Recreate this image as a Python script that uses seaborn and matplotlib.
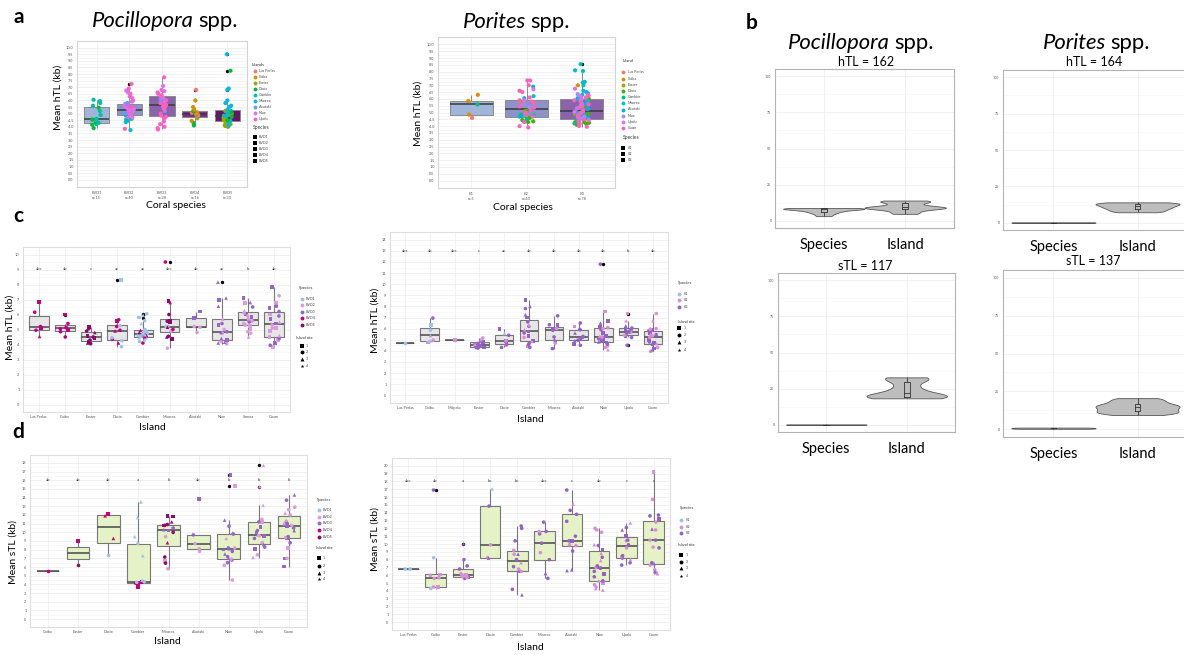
import numpy as np
import pandas as pd
import matplotlib
matplotlib.use("Agg")
import matplotlib.pyplot as plt
from matplotlib.ticker import FixedLocator
import seaborn as sns

np.random.seed(11)
sns.set_theme(style="white")
plt.rcParams["font.family"] = ["Lato", "DejaVu Sans"]

W, H = 1184, 655

# ---------------- panel a: hTL by coral species ----------------
POC_SPECIES = ["BVD1", "BVD2", "BVD3", "BVD4", "BVD5"]
POC_N = [15, 40, 28, 16, 33]
POC_FILL = ["#9fb5d9", "#8c93c9", "#8b63ab", "#7e2d8e", "#6b0f72"]
A_POC_ISLANDS = ["Las Perlas", "Coiba", "Easter", "Ducie", "Gambier",
                 "Moorea", "Aitutaki", "Niue", "Upolu"]
A_POC_ISLAND_COLORS = ["#F8766D", "#D39200", "#93AA00", "#00BA38", "#00C19F",
                       "#00B9E3", "#619CFF", "#DB72FB", "#FF61C3"]
a_poc_values = [
    [3.9, 4.15, 4.2, 4.3, 4.35, 4.45, 4.55, 4.6, 4.9, 5.2, 5.45, 5.6, 5.8, 5.95, 6.05],
    [3.75, 3.85, 4.35, 4.45, 4.55, 4.6, 4.7, 4.75, 4.8, 4.85,
     4.9, 4.95, 5.0, 5.05, 5.1, 5.15, 5.2, 5.2, 5.25, 5.25,
     5.3, 5.35, 5.4, 5.45, 5.5, 5.55, 5.6, 5.65, 5.7, 5.75,
     5.8, 5.9, 6.0, 6.2, 6.3, 6.5, 6.6, 6.75, 6.9, 7.25],
    [3.8, 3.9, 4.0, 4.2, 4.4, 4.6, 4.75, 4.85, 5.0, 5.2, 5.3, 5.45, 5.55, 5.6,
     5.65, 5.8, 5.9, 6.0, 6.1, 6.2, 6.3, 6.4, 6.5, 6.6, 6.7, 6.8, 7.1, 7.75],
    [4.1, 4.3, 4.45, 4.65, 4.8, 4.85, 4.9, 4.95, 4.95, 5.05, 5.1, 5.2, 5.3, 5.5, 6.0, 6.8],
    [4.0, 4.05, 4.1, 4.2, 4.3, 4.4, 4.5, 4.6, 4.7, 4.8, 4.9, 5.0, 5.1, 5.2,
     4.1, 4.35, 4.45, 5.3, 5.6, 4.8, 5.8, 5.0, 5.2, 5.5, 6.0, 6.8, 6.9, 9.5,
     4.5, 4.75, 5.1, 8.25, 4.85],
]
a_poc_island_codes = [
    "334434344434444",
    "5855447787" "5876787867" "8787878787" "6787887788",
    "888888888" "6" "888888" "7" "8" "6" "7" "8888" "7" "8" "7" "8",
    "3311410410131110",
    "22222222222222" "55555555555555" "3333" "4",
]

POR_SPECIES = ["K1", "K2", "K3"]
POR_N = [5, 40, 78]
POR_FILL = ["#9fb5d9", "#8c93c9", "#8b63ab"]
A_POR_ISLANDS = ["Las Perlas", "Coiba", "Easter", "Ducie", "Gambier", "Moorea",
                 "Aitutaki", "Niue", "Upolu", "Guam"]
A_POR_ISLAND_COLORS = ["#F8766D", "#D89000", "#A3A500", "#39B600", "#00BF7D",
                       "#00BFC4", "#00B0F6", "#9590FF", "#E76BF3", "#FF62BC"]
a_por_values = [
    [4.6, 4.85, 5.6, 5.85, 6.3],
    [5.75, 5.1, 4.8, 4.3, 4.35, 4.4, 4.45, 4.6, 5.15, 4.5, 4.75, 4.85, 6.9, 6.2,
     4.8, 6.05, 4.7, 7.35, 7.35, 7.0, 6.6, 6.5, 6.1, 5.9, 5.8, 5.7, 5.55, 5.45,
     5.35, 5.2, 5.0, 4.9, 4.7, 4.3, 4.0, 3.9, 5.6, 5.4, 6.7, 5.9],
    [7.0,
     4.9, 4.55, 4.3,
     6.0, 5.45, 4.9, 4.6, 4.45, 4.35, 4.25, 4.2, 4.15, 4.1, 4.05, 4.3,
     5.95, 5.6, 5.25, 4.8, 4.4, 4.2,
     8.55, 8.1, 8.05, 7.25, 7.2, 7.0, 6.6, 6.4, 6.3, 5.85, 5.4, 5.0, 4.7,
     6.5, 6.05, 5.65, 5.3, 5.15, 5.0, 4.85, 4.75, 4.6, 4.5,
     6.35, 6.0, 5.7, 5.3, 4.95, 4.7, 4.55,
     6.75, 6.2, 5.9, 5.5, 5.05, 4.65, 4.45,
     6.3, 6.25, 6.1, 5.8, 5.6, 5.35, 5.2, 5.1, 4.95, 4.8, 4.65, 4.5, 4.35,
     4.25, 4.15, 4.0, 3.95, 5.5, 5.9],
]
a_por_island_codes = [
    "01411",
    "111" "333333" "444" "555" "66" "9999999999999999999" "77" "88",
    "1" "222" "333333333333" "444444" "5555555555555" "6666666666"
    "7777777" "8888888" "9999999999999999999",
]

# ---------------- panel b: variance components ----------------
B_TERMS = ["Species", "Island"]
b_poc_htl_species = [3.2, 4.5, 5.5, 6.2, 6.8, 7.3, 7.8, 8.1, 8.3, 8.5, 8.6, 8.7, 8.8]
b_poc_htl_island = [4.8, 5.3, 6.5, 7.6, 8.3, 8.7, 8.9, 9.0, 9.1, 9.3, 9.6, 10.3,
                    11.2, 12.6, 13.2, 13.5, 13.6, 14.0]
b_por_htl_species = [0.0, 0.05, 0.1, 0.15, 0.2]
b_por_htl_island = [7.2, 7.8, 8.6, 9.4, 10.0, 10.6, 11.2, 11.8, 12.3, 12.8, 13.3, 13.7, 14.0]
b_poc_stl_species = [0.0, 0.05, 0.1, 0.15, 0.2]
b_poc_stl_island = [18.3, 18.6, 18.9, 19.1, 19.4, 19.8, 20.3, 21.0, 22.0, 23.2, 25.0,
                    27.0, 29.5, 31.5, 32.3, 32.6, 32.8]
b_por_stl_species = [0.4, 0.6, 0.8, 1.0, 1.2]
b_por_stl_island = [9.5, 10.2, 10.8, 11.3, 11.8, 12.5, 13.3, 14.0, 14.6, 15.2, 15.7,
                    16.2, 17.0, 18.0, 19.0, 20.0, 20.6]
B_N = {"poc_htl": 162, "por_htl": 164, "poc_stl": 117, "por_stl": 137}

# ---------------- panels c, d: telomere length by island ----------------
BVD_COLORS = ["#9dc3e6", "#dc9bdb", "#9466c9", "#c4007f", "#8a0a6d"]
K_COLORS = ["#9dc3e6", "#d98fd6", "#9262c6"]
SITES = ["1", "2", "3", "4"]
SITE_MARKERS = ["s", "o", "^", "*"]

c_poc_islands = ["Las Perlas", "Coiba", "Easter", "Ducie", "Gambier", "Moorea",
                 "Aitutaki", "Niue", "Samoa", "Guam"]
c_poc_values = [
    [4.55, 4.95, 5.1, 5.2, 6.15, 6.85],
    [4.5, 4.85, 4.95, 5.05, 5.1, 5.25, 5.4, 6.0],
    [4.05, 4.1, 4.15, 4.3, 4.45, 4.5, 4.55, 4.8, 4.9, 5.05, 5.15],
    [3.85, 4.1, 4.25, 4.35, 4.45, 4.9, 4.95, 5.2, 5.25, 5.55, 5.65, 8.3],
    [4.1, 4.2, 4.3, 4.4, 4.45, 4.5, 4.55, 4.6, 4.6, 4.65, 4.7, 4.7, 4.75, 4.8,
     4.85, 4.9, 4.95, 5.0, 5.4, 5.6, 5.8, 5.95, 6.05],
    [3.75, 4.35, 4.5, 4.55, 4.9, 5.0, 5.15, 5.2, 5.2, 5.5, 5.55, 5.6, 6.0, 6.8, 6.9, 9.5],
    [4.8, 5.15, 5.2, 5.75, 6.2],
    [4.05, 4.1, 4.15, 4.2, 4.3, 4.4, 4.75, 4.8, 4.85, 5.0, 5.3, 5.4, 5.7, 6.55,
     6.95, 7.1, 8.15],
    [4.5, 4.75, 4.85, 5.0, 5.25, 5.3, 5.4, 5.5, 5.55, 5.6, 5.7, 5.85, 5.9, 6.0,
     6.1, 6.25, 6.5, 6.75, 6.8, 7.1],
    [3.85, 3.95, 4.1, 4.3, 4.4, 4.5, 4.6, 4.9, 5.1, 5.1, 5.3, 5.4, 5.5, 5.7, 5.9,
     6.0, 6.2, 6.45, 6.55, 6.75, 7.25, 7.85],
]
c_poc_species = ["444444", "44444444", "55555555555", "141414441441",
                 "41111414114115114111111", "2555245215555454", "22233",
                 "23323323323323333", "22222223222323223233", "2332322222232332333223"]
c_poc_sites = ["321221", "22122321", "23121213221", "232223222121",
               "21323213231223213232132", "2132223221212312", "22211",
               "23321323221233133", "32221222132121232131", "1211213121213121212121"]
c_poc_letters = ["abc", "ab", "c", "ac", "ac", "abc", "ab", "ac", "b", "ab"]

c_por_islands = ["Las Perlas", "Coiba", "Malpelo", "Easter", "Ducie", "Gambier",
                 "Moorea", "Aitutaki", "Niue", "Upolu", "Guam"]
c_por_values = [
    [4.7],
    [4.75, 4.85, 4.95, 5.4, 5.85, 6.3, 6.95],
    [5.0, 5.0],
    [4.25, 4.3, 4.3, 4.35, 4.4, 4.45, 4.55, 4.6, 4.65, 4.8, 4.85, 5.0, 5.15],
    [4.3, 4.5, 4.6, 4.9, 4.9, 5.4, 5.6, 5.95],
    [4.3, 4.4, 4.55, 4.7, 4.85, 4.9, 5.2, 5.35, 5.6, 5.75, 5.9, 6.2, 6.3, 6.6,
     7.0, 7.25, 7.8, 8.0, 8.55],
    [4.2, 4.7, 4.85, 5.1, 5.25, 5.85, 5.95, 6.0, 6.3, 6.35, 7.15],
    [4.5, 4.6, 4.9, 4.95, 5.1, 5.2, 5.3, 5.6, 5.9, 5.95, 6.2, 6.5],
    [4.1, 4.3, 4.45, 4.6, 4.75, 4.8, 4.9, 5.0, 5.1, 5.2, 5.25, 5.3, 5.35, 5.6,
     5.9, 6.0, 6.1, 6.2, 6.5, 6.7, 7.55, 11.8],
    [4.5, 5.2, 5.3, 5.4, 5.6, 5.65, 5.7, 5.75, 5.85, 5.95, 6.05, 6.25, 6.7, 7.35],
    [3.95, 4.1, 4.2, 4.3, 4.55, 4.65, 4.75, 4.8, 5.0, 5.2, 5.35, 5.45, 5.5, 5.6,
     5.8, 5.9, 5.95, 6.0, 6.7, 7.35],
]
c_por_species = ["1", "2122113", "22", "3333333233322", "32332313",
                 "3233232333232333333", "32333332333", "333333333323",
                 "2223333333223332233323", "33323323333322", "23323233322323332222"]
c_por_sites = ["2", "1223212", "12", "2132212321232", "22212231",
               "2122312121323213231", "22132212122", "213221232312",
               "3222132122231122213112", "22122132212331", "23122312122231212232"]
c_por_letters = ["abc", "ab", "abc", "c", "ac", "ab", "ab", "ab", "ab", "b", "ab"]

d_poc_islands = ["Coiba", "Easter", "Ducie", "Gambier", "Moorea", "Aitutaki",
                 "Niue", "Upolu", "Guam"]
d_poc_values = [
    [5.5],
    [6.25, 9.0],
    [7.4, 9.3, 11.9, 12.1],
    [3.7, 4.0, 4.15, 4.2, 4.25, 4.3, 4.3, 4.5, 7.3, 8.7, 9.5, 11.7, 13.5],
    [5.8, 6.45, 6.7, 7.15, 8.8, 9.5, 10.0, 10.2, 10.3, 10.5, 10.8, 10.8, 10.9,
     11.2, 11.8, 11.9],
    [7.8, 8.1, 8.7, 9.7, 13.85],
    [4.5, 6.2, 6.5, 6.8, 6.9, 7.0, 7.2, 7.5, 7.8, 8.05, 8.1, 8.2, 8.2, 9.3, 9.8,
     9.9, 10.7, 11.4, 15.3, 16.6],
    [7.1, 7.4, 8.1, 8.3, 8.6, 8.8, 9.3, 9.6, 9.6, 9.7, 10.0, 10.2, 10.6, 11.2,
     11.2, 11.5, 13.1, 15.25, 17.7],
    [6.05, 7.0, 7.0, 8.2, 8.8, 9.3, 9.4, 9.5, 10.2, 10.5, 10.7, 10.8, 11.0, 11.0,
     11.2, 11.4, 12.0, 12.2, 12.6, 12.9, 13.7, 14.3],
]
d_poc_species = ["4", "54", "1444", "4444114111111", "2525425333545455", "22233",
                 "22332333333232333323", "2233323322333322222",
                 "3322332333323232222233"]
d_poc_sites = ["2", "21", "2331", "1121221332333", "2212322132212311", "22221",
               "22222323233223232311", "3212322123121212333",
               "1121212232122323232223"]
d_poc_letters = ["ab", "ab", "ab", "a", "b", "ab", "b", "b", "b"]

d_por_islands = ["Las Perlas", "Coiba", "Easter", "Ducie", "Gambier", "Moorea",
                 "Aitutaki", "Niue", "Upolu", "Guam"]
d_por_values = [
    [6.8, 6.8],
    [4.3, 4.5, 4.5, 5.6, 5.7, 6.0, 6.1, 8.25, 16.9],
    [5.6, 5.7, 5.8, 5.8, 5.85, 5.9, 6.0, 6.1, 6.2, 6.8, 7.2, 8.0, 10.0],
    [8.2, 8.25, 9.9, 14.85, 17.05],
    [3.5, 4.2, 6.5, 6.5, 6.8, 7.1, 7.6, 8.0, 8.7, 8.7, 9.2, 10.4, 12.0, 12.3],
    [5.6, 6.3, 8.0, 8.9, 10.1, 11.3, 11.6, 11.6, 12.8],
    [6.6, 6.7, 9.1, 9.8, 9.9, 10.4, 10.4, 11.0, 12.9, 13.8, 14.3, 15.1, 16.9],
    [4.1, 4.3, 4.5, 4.8, 5.0, 5.3, 5.3, 5.8, 6.2, 6.5, 6.9, 6.9, 7.0, 7.2, 7.9,
     8.3, 8.8, 9.3, 9.8, 9.9, 11.5, 11.8, 12.0],
    [7.3, 7.6, 8.0, 8.2, 8.4, 8.5, 9.5, 9.9, 10.4, 10.5, 11.0, 11.8, 12.1, 12.7],
    [6.2, 6.3, 6.5, 6.7, 7.3, 7.5, 7.6, 9.5, 9.6, 10.5, 10.5, 11.8, 11.9, 12.8,
     13.2, 13.6, 13.7, 15.7, 19.2],
]
d_por_species = ["11", "122222213", "3223222223333", "32231", "33322323322333",
                 "333233233", "3332233333323", "22222323333223232332222",
                 "33232323233332", "2232233323223233322"]
d_por_sites = ["22", "221222122", "2221222122224", "32223", "32222232322222",
               "232222222", "3322221222232", "33221232122122323123222",
               "22322222221323", "3232232222223212221"]
d_por_letters = ["abc", "ab", "a", "bc", "bc", "abc", "c", "ab", "c", "c"]


# ---------------- helpers ----------------
fig = plt.figure(figsize=(W / 100, H / 100), dpi=100)


def axes_px(left, top, right, bottom):
    return fig.add_axes([left / W, 1 - bottom / H, (right - left) / W, (bottom - top) / H])


def long_table(groups, values, codes_a, codes_b=None):
    rows = []
    for i, g in enumerate(groups):
        vals = values[i]
        ca = codes_a[i]
        cb = codes_b[i] if codes_b is not None else "0" * len(vals)
        assert len(vals) == len(ca) == len(cb), (g, len(vals), len(ca), len(cb))
        for v, a, b in zip(vals, ca, cb):
            rows.append({"grp": g, "val": v, "ca": int(a), "cb": b})
    return pd.DataFrame(rows)


def style_axes(ax, xlim, ylim, ymajor, yminor, ylabels, xlabels, border,
               fs=3.0, grid="#ebebeb"):
    ax.set_xlim(*xlim)
    ax.set_ylim(*ylim)
    ax.set_xlabel("")
    ax.set_ylabel("")
    ax.set_yticks(ymajor)
    ax.set_yticklabels(ylabels, fontsize=fs, color="#555555")
    ax.yaxis.set_minor_locator(FixedLocator(yminor))
    ax.set_xticks(range(len(xlabels)))
    ax.set_xticklabels(xlabels, fontsize=fs, color="#555555")
    ax.set_axisbelow(True)
    ax.grid(True, which="major", color=grid, lw=0.5)
    ax.grid(True, which="minor", axis="y", color="#f4f4f4", lw=0.4)
    ax.tick_params(which="major", length=1.5, width=0.4, color="#888888", pad=1)
    ax.tick_params(which="minor", length=0)
    for s in ax.spines.values():
        s.set_color(border)
        s.set_linewidth(0.8)


FLIER = dict(marker="o", markersize=1.4, markerfacecolor="black",
             markeredgecolor="black")


def species_panel(box, species, n, fills, values, codes, islands, icolors, ylim):
    ax = axes_px(*box)
    df = long_table(species, values, codes)
    df["isl"] = [islands[c] for c in df["ca"]]
    sns.boxplot(data=df, x="grp", y="val", order=species, hue="grp",
                hue_order=species, palette=fills, saturation=1, width=0.78,
                linewidth=0.7, linecolor="#8a8a8a", showcaps=False,
                flierprops=FLIER, medianprops=dict(color="#3a3a3a", linewidth=1.1),
                legend=False, ax=ax)
    sns.stripplot(data=df, x="grp", y="val", order=species, hue="isl",
                  hue_order=islands, palette=icolors, jitter=0.14, size=3.0,
                  linewidth=0, legend=False, ax=ax)
    major = [i * 0.5 for i in range(21)]
    minor = [0.25 + i * 0.5 for i in range(20)]
    style_axes(ax, (-0.6, len(species) - 0.4), ylim, major, minor,
               [f"{m:.1f}" for m in major],
               [f"{s}\nn={k}" for s, k in zip(species, n)], "#d4d4d4", fs=2.8)
    ax.tick_params(axis="x", pad=1.5)
    return ax


def violin_panel(box, sp_vals, isl_vals):
    ax = axes_px(*box)
    df = pd.DataFrame({"term": ["Species"] * len(sp_vals) + ["Island"] * len(isl_vals),
                       "val": list(sp_vals) + list(isl_vals)})
    sns.violinplot(data=df, x="term", y="val", order=B_TERMS, cut=0, inner=None,
                   density_norm="width", width=1.0, color="#bdbdbd", saturation=1,
                   linecolor="#555555", linewidth=0.6, bw_adjust=0.7, ax=ax)
    sns.boxplot(data=df, x="term", y="val", order=B_TERMS, width=0.07, fill=False,
                color="#333333", linewidth=0.6, showcaps=False,
                flierprops=dict(marker="o", markersize=1.2, markerfacecolor="#111111",
                                markeredgecolor="#111111"), ax=ax)
    style_axes(ax, (-0.6, 1.6), (-5, 105), [0, 25, 50, 75, 100],
               [12.5, 37.5, 62.5, 87.5], ["0", "25", "50", "75", "100"],
               B_TERMS, "#b3b3b3", fs=2.6)
    ax.tick_params(axis="x", labelsize=10.5, labelcolor="black", pad=6, length=1.5)
    return ax


def island_panel(box, islands, values, sp_codes, site_codes, sp_names, sp_colors,
                 fill, ylim, ymax, letters, letter_y):
    ax = axes_px(*box)
    df = long_table(islands, values, sp_codes, site_codes)
    df["sp"] = [sp_names[c - 1] for c in df["ca"]]
    sns.boxplot(data=df, x="grp", y="val", order=islands, color=fill, saturation=1,
                width=0.75, linewidth=0.8, linecolor="#777777", showcaps=False,
                flierprops=FLIER, medianprops=dict(color="#555555", linewidth=1.2),
                ax=ax)
    for site, marker in zip(SITES, SITE_MARKERS):
        sub = df[df["cb"] == site]
        if len(sub) == 0:
            continue
        sns.stripplot(data=sub, x="grp", y="val", order=islands, hue="sp",
                      hue_order=sp_names, palette=sp_colors, marker=marker,
                      size=2.6 if marker != "*" else 3.2, jitter=0.2, linewidth=0,
                      legend=False, ax=ax)
    for i, lab in enumerate(letters):
        ax.text(i, letter_y, lab, ha="center", va="center", fontsize=3.2, color="#333333")
    major = list(range(ymax + 1))
    minor = [m + 0.5 for m in range(ymax)]
    style_axes(ax, (-0.6, len(islands) - 0.4), ylim, major, minor,
               [str(m) for m in major], islands, "#dedede", fs=2.8)
    return ax


# ---------------- panel a ----------------
species_panel((77, 41, 247, 187), POC_SPECIES, POC_N, POC_FILL, a_poc_values,
              a_poc_island_codes, A_POC_ISLANDS, A_POC_ISLAND_COLORS, (-0.56, 10.5))
species_panel((438, 37, 615, 188), POR_SPECIES, POR_N, POR_FILL, a_por_values,
              a_por_island_codes, A_POR_ISLANDS, A_POR_ISLAND_COLORS, (-0.55, 10.55))

# ---------------- panel b ----------------
violin_panel((775, 69, 954, 228), b_poc_htl_species, b_poc_htl_island)
violin_panel((1003, 70, 1188, 230), b_por_htl_species, b_por_htl_island)
violin_panel((778, 273, 955, 432), b_poc_stl_species, b_poc_stl_island)
violin_panel((1003, 270, 1188, 437), b_por_stl_species, b_por_stl_island)

# ---------------- panels c and d ----------------
island_panel((23, 247, 290, 412), c_poc_islands, c_poc_values, c_poc_species,
             c_poc_sites, POC_SPECIES, BVD_COLORS, "#e6e6e6", (-0.5, 10.5), 10,
             c_poc_letters, 9)
island_panel((390, 232, 668, 403), c_por_islands, c_por_values, c_por_species,
             c_por_sites, POR_SPECIES, K_COLORS, "#e6e6e6", (-0.7, 14.7), 14,
             c_por_letters, 13)
island_panel((30, 455, 307, 627), d_poc_islands, d_poc_values, d_poc_species,
             d_poc_sites, POC_SPECIES, BVD_COLORS, "#e4f2c6", (-0.9, 18.9), 18,
             d_poc_letters, 16)
island_panel((392, 458, 670, 630), d_por_islands, d_por_values, d_por_species,
             d_por_sites, POR_SPECIES, K_COLORS, "#e4f2c6", (-1.0, 21.0), 20,
             d_por_letters, 18)

# ---------------- text layer (pixel coordinates) ----------------
ov = fig.add_axes([0, 0, 1, 1], zorder=10)
ov.set_xlim(0, W)
ov.set_ylim(H, 0)
ov.axis("off")
ov.patch.set_alpha(0)


def txt(x, y, s, size, **kw):
    kw.setdefault("ha", "center")
    kw.setdefault("va", "center")
    kw.setdefault("color", "black")
    ov.text(x, y, s, fontsize=size, **kw)


def genus_title(x_split, y, genus, size):
    txt(x_split - 2, y, genus, size, ha="right", style="italic")
    txt(x_split + 2, y, "spp.", size, ha="left")


# panel letters
for lab, (x, y) in zip("abcd", [(19, 17), (752, 23), (18, 216), (18, 432)]):
    txt(x, y, lab, 15, fontweight="bold")

# titles
genus_title(196, 21, "Pocillopora", 15.8)
genus_title(528, 22, "Porites", 15.8)
genus_title(892, 43, "Pocillopora", 15.8)
genus_title(1108, 43, "Porites", 15.8)
txt(866, 62, f"hTL = {B_N['poc_htl']}", 9)
txt(1094, 62, f"hTL = {B_N['por_htl']}", 9)
txt(865, 266, f"sTL = {B_N['poc_stl']}", 9)
txt(1093, 261, f"sTL = {B_N['por_stl']}", 9)

# axis titles
txt(58, 97, "Mean hTL (kb)", 7.5, rotation=90)
txt(176, 206, "Coral species", 7.5)
txt(418, 113, "Mean hTL (kb)", 7.5, rotation=90)
txt(523, 208, "Coral species", 7.5)
txt(10, 327, "Mean hTL (kb)", 7.5, rotation=90)
txt(152, 428, "Island", 7.5)
txt(375, 320, "Mean hTL (kb)", 7.5, rotation=90)
txt(530, 420, "Island", 7.5)
txt(13, 552, "Mean sTL (kb)", 7.5, rotation=90)
txt(167, 642, "Island", 7.5)
txt(375, 539, "Mean sTL (kb)", 7.5, rotation=90)
txt(530, 647, "Island", 7.5)


def legend(x, y_title, title, labels, colors, markers, ys, mx, tx, tsize=3.2,
           lsize=2.6, ms=2.8):
    txt(x, y_title, title, tsize, ha="left", color="#333333")
    for lab, c, m, yy in zip(labels, colors, markers, ys):
        ov.plot([mx], [yy], marker=m, color=c, ms=ms, ls="none", mew=0)
        txt(tx, yy, lab, lsize, ha="left", color="#444444")


legend(252, 65, "Islands", A_POC_ISLANDS, A_POC_ISLAND_COLORS, ["o"] * 9,
       [71 + 5.95 * i for i in range(9)], 255, 259)
legend(253, 128, "Species", POC_SPECIES, ["black"] * 5, ["s"] * 5,
       [137.3 + 6 * i for i in range(5)], 255, 259, tsize=3.6)
legend(623, 61, "Island", A_POR_ISLANDS, A_POR_ISLAND_COLORS, ["o"] * 10,
       [72.3 + 6.2 * i for i in range(10)], 623, 627.5)
legend(623, 137.3, "Species", POR_SPECIES, ["black"] * 3, ["s"] * 3,
       [147.7 + 6 * i for i in range(3)], 623, 627.5, tsize=3.6)

site_cols = ["black"] * 4
legend(299, 288, "Species", POC_SPECIES, BVD_COLORS, ["o"] * 5,
       [299, 305.3, 311.7, 318.3, 325], 302, 306)
legend(296.5, 338.3, "Island site", SITES, site_cols, SITE_MARKERS,
       [345.7, 352.3, 359, 365.7], 302, 306, tsize=2.8)
legend(678, 282.7, "Species", POR_SPECIES, K_COLORS, ["o"] * 3,
       [294.3, 300.3, 307.3], 678.5, 684)
legend(678, 321.7, "Island site", SITES, site_cols, SITE_MARKERS,
       [328.3, 335, 341.7, 350], 678.5, 684, tsize=2.8)
legend(316.5, 500, "Species", POC_SPECIES, BVD_COLORS, ["o"] * 5,
       [510, 516.7, 523.3, 530, 537.3], 319, 322.7)
legend(316, 548.3, "Island site", SITES, site_cols, SITE_MARKERS,
       [558.3, 566, 572.7, 579.3], 319, 322.7, tsize=2.8)
legend(680, 508.3, "Species", POR_SPECIES, K_COLORS, ["o"] * 3,
       [520, 526.7, 533.3], 680.7, 686)
legend(678, 545, "Island site", SITES, site_cols, SITE_MARKERS,
       [555, 561.7, 568.3, 576], 680.7, 686, tsize=2.8)

fig.savefig("out.png", dpi=100)
